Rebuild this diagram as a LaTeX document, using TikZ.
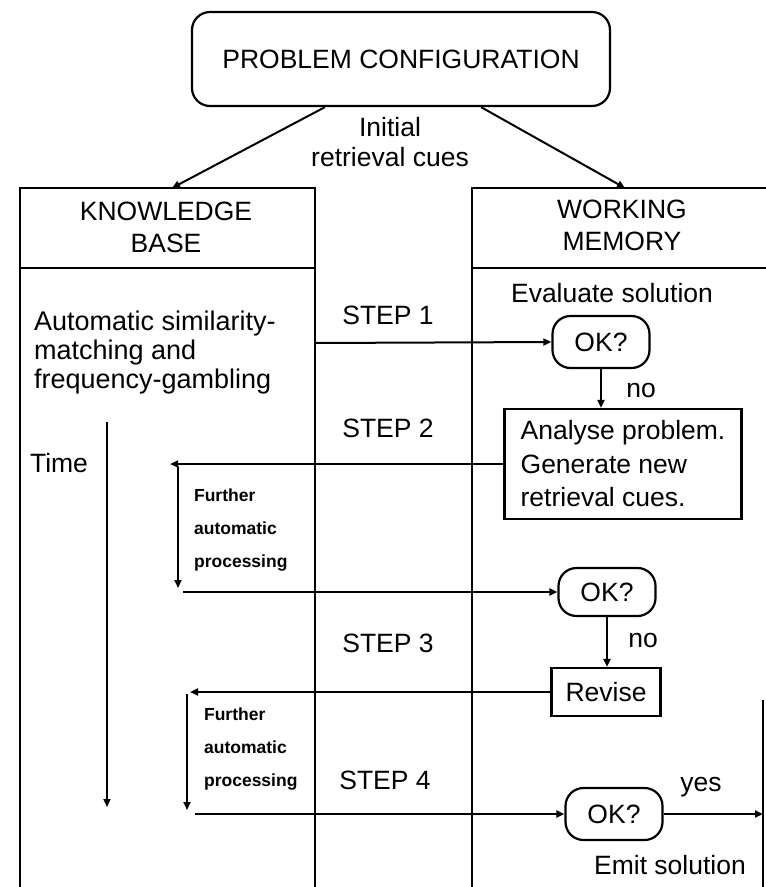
\documentclass[tikz,border=0pt]{standalone}
\usepackage{fontspec}
\setmainfont{Liberation Sans}
\usetikzlibrary{arrows.meta}

\newcommand{\mainfnt}{\fontsize{26.5}{30}\selectfont}
\newcommand{\smallfnt}{\fontsize{17.5}{33}\selectfont\bfseries}

\begin{document}
\begin{tikzpicture}[x=1pt, y=-1pt, line width=2.2pt,
    every node/.style = {font=\mainfnt, inner sep=0pt},
    okbox/.style = {draw, rounded corners=18pt, minimum width=97pt, minimum height=52pt},
    plainbox/.style = {draw, rectangle},
    arr/.style = {-{Triangle[length=8pt, width=7pt]}, line width=2pt},
    further/.style = {align=left, anchor=west, font=\smallfnt}]

\useasboundingbox (0,0) rectangle (766,887);

\node[draw, rounded corners=18pt, minimum width=418pt, minimum height=94pt] (problem) at (401,59) {PROBLEM CONFIGURATION};
\node[align=center] (cues) at (390,142) {Initial\\retrieval cues};

% the two columns
\draw (20,887) -- (20,188) -- (315,188) -- (315,887);
\draw (20,268) -- (315,268);
\draw (472,887) -- (472,188) -- (766,188);
\draw (472,268) -- (766,268);
\draw (763,700) -- (763,887);

\node[align=center, font=\fontsize{26.5}{32}\selectfont] (kbhead) at (166,227) {KNOWLEDGE\\BASE};
\node[align=center, font=\fontsize{26.5}{32}\selectfont] (wmhead) at (622,225) {WORKING\\MEMORY};

\coordinate (kbin) at (172,188);
\coordinate (wmin) at (625,188);
\draw[arr] ([xshift=-76pt]problem.south) -- (kbin);
\draw[arr] ([xshift=80pt]problem.south) -- (wmin);

% knowledge base side
\node[align=left, anchor=north west, font=\fontsize{27}{29}\selectfont] (autotext) at (33,310)
    {Automatic similarity-\\matching and\\frequency-gambling};
\node (time) at (59,463) {Time};
\coordinate (timetop) at (107,422);
\coordinate (timeend) at (107,807);
\draw[arr] (timetop) -- (timeend);

\node[further] (fp1) at (193,530) {Further\\automatic\\processing};
\node[further] (fp2) at (203,749) {Further\\automatic\\processing};

% steps
\node (step1) at (388,315) {STEP 1};
\node (step2) at (388,428) {STEP 2};
\node (step3) at (388,643) {STEP 3};
\node (step4) at (385,780) {STEP 4};

% working memory side
\node (eval) at (612,293) {Evaluate solution};
\node[okbox] (ok1) at (601,342) {OK?};
\node[plainbox, minimum width=237pt, minimum height=110pt, align=left,
      font=\fontsize{26.5}{33.5}\selectfont] (analyse) at (623,464)
    {Analyse problem.\\Generate new\\retrieval cues.};
\node[okbox, minimum height=48pt] (ok2) at (607,592) {OK?};
\node[plainbox, minimum width=109pt, minimum height=48pt] (revise) at (606,692) {Revise};
\node[okbox] (ok3) at (614,814) {OK?};
\node (emit) at (670,865) {Emit solution};

\node (no1) at (641,390) {no};
\node (no2) at (643,640) {no};
\node (yes) at (701,787) {yes};

% connectors
\coordinate (s1from) at (315,343);
\draw[arr] (s1from) -- (ok1.west);
\draw[arr] (ok1.south) -- (ok1.south |- analyse.north);

\coordinate (back1) at (170,464);
\coordinate (down1a) at (178,466);
\coordinate (down1b) at (178,588);
\coordinate (fwd1) at (183,592);
\draw[arr] (analyse.west) -- (back1);
\draw[arr] (down1a) -- (down1b);
\draw[arr] (fwd1) -- (ok2.west);
\draw[arr] (ok2.south) -- (ok2.south |- revise.north);

\coordinate (back2) at (190,692);
\coordinate (down2a) at (187,694);
\coordinate (down2b) at (187,810);
\coordinate (fwd2) at (195,814);
\draw[arr] (revise.west) -- (back2);
\draw[arr] (down2a) -- (down2b);
\draw[arr] (fwd2) -- (ok3.west);

\coordinate (wmright) at (763,814);
\draw[arr] (ok3.east) -- (wmright);

\end{tikzpicture}
\end{document}
